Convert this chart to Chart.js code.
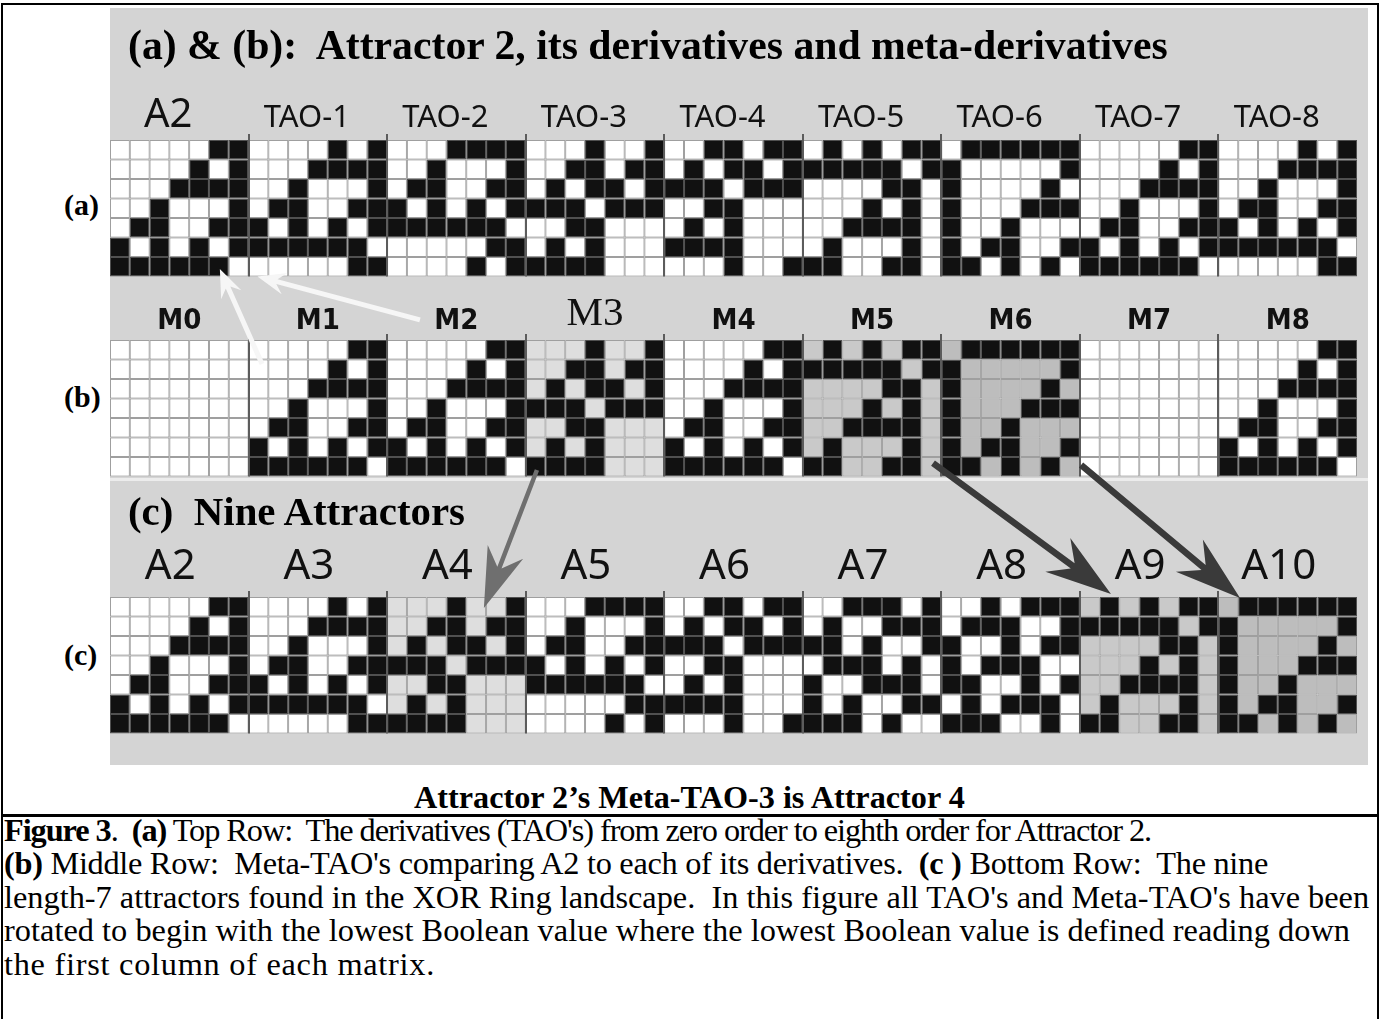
<!DOCTYPE html>
<html><head><meta charset="utf-8">
<script src="https://cdn.jsdelivr.net/npm/chart.js@4.4.1/dist/chart.umd.min.js"></script>
<style>
html,body{margin:0;padding:0;background:#fff;}
body{width:1381px;height:1019px;position:relative;overflow:hidden;font-family:'Liberation Serif','Times New Roman',serif;color:#000;}
#frame{position:absolute;left:1px;top:3px;width:1378px;height:1040px;border:2px solid #000;box-sizing:border-box;}
#sep{position:absolute;left:1px;top:814px;width:1378px;height:3px;background:#000;}
#wrap{position:absolute;left:110px;top:8px;width:1258px;height:757px;background:#d4d4d4;}
#wrap canvas{position:absolute;left:0;top:0;}
.band{position:absolute;left:0;width:1258px;background:#ececec;}
.t{position:absolute;white-space:pre;line-height:1;}
.b{font-weight:bold;}
</style></head>
<body>
<div id="frame"></div>
<div id="wrap">
  <div class="band" style="top:470px;height:3px;"></div>
  <canvas id="c" width="1258" height="757"></canvas>
</div>
<div class="t b" data-w="1040" data-cy="46" style="left:128px;font-size:32px;">(a) &amp; (b):  Attractor 2, its derivatives and meta-derivatives</div>
<div class="t b" data-cy="205" style="left:64px;font-size:30px;">(a)</div>
<div class="t b" data-cy="397" style="left:64px;font-size:30px;">(b)</div>
<div class="t b" data-cy="655" style="left:64px;font-size:30px;">(c)</div>
<div class="t b" data-w="337" data-cy="512" style="left:128px;font-size:32px;">(c)  Nine Attractors</div>
<div class="t b" data-w="551" data-cy="797" style="left:414px;font-size:24px;">Attractor 2’s Meta-TAO-3 is Attractor 4</div>
<div id="sep"></div>
<div class="t cap" data-lw="1147" data-cy="830" style="left:4px;font-size:26px;"><b>Figure 3</b>.  <b>(a)</b> Top Row:  The derivatives (TAO's) from zero order to eighth order for Attractor 2.</div>
<div class="t cap" data-lw="1264" data-cy="863.5" style="left:4px;font-size:26px;"><b>(b)</b> Middle Row:  Meta-TAO's comparing A2 to each of its derivatives.  <b>(c )</b> Bottom Row:  The nine</div>
<div class="t cap" id="capRef" data-cy="897" style="left:4px;font-size:26px;">length-7 attractors found in the XOR Ring landscape.  In this figure all TAO's and Meta-TAO's have been</div>
<div class="t cap" data-lw="1346" data-cy="930.5" style="left:4px;font-size:26px;">rotated to begin with the lowest Boolean value where the lowest Boolean value is defined reading down</div>
<div class="t cap" data-lw="431" data-cy="964" style="left:4px;font-size:26px;">the first column of each matrix.</div>
<script>
// ---------- DATA ----------
const ROW_A_LABELS = ['A2','TAO-1','TAO-2','TAO-3','TAO-4','TAO-5','TAO-6','TAO-7','TAO-8'];
const ROW_B_LABELS = ['M0','M1','M2','M3','M4','M5','M6','M7','M8'];
const ROW_C_LABELS = ['A2','A3','A4','A5','A6','A7','A8','A9','A10'];

// 7x7 Boolean matrices, one string per matrix row (1 = black)
const A2   = ['0000011','0000101','0001111','0010001','0110011','1010101','1111110'];
const TAO1 = ['0000101','0001111','0010001','0110011','1010101','1111110','0000011'];
const TAO2 = ['0001111','0010001','0110011','1010101','1111110','0000011','0000101'];
const TAO3 = ['0001001','0011011','0101101','1110111','0011000','0101000','1111000'];
const TAO4 = ['0011011','0101101','1110111','0011000','0101000','1111000','0001001'];
const TAO5 = ['0101011','1111101','0000110','0001010','0011110','0100010','1100110'];
const TAO6 = ['0111111','1000001','1000010','1000111','1001000','1011001','1101010'];
const TAO7 = ['0000011','0000101','0001111','0010001','0110011','1010101','1111110'];
const TAO8 = ['0000101','0001111','0010001','0110011','1010101','1111110','0000011'];

const M0 = ['0000000','0000000','0000000','0000000','0000000','0000000','0000000'];
const M1 = ['0000011','0000101','0001111','0010001','0110011','1010101','1111110'];
const M2 = ['0000011','0000101','0001111','0010001','0110011','1010101','1111110'];
const M3 = ['0001001','0011011','0101101','1110111','0011000','0101000','1111000'];
const M4 = ['0000011','0000101','0001111','0010001','0110011','1010101','1111110'];
const M5 = ['0101011','1111101','0000110','0001010','0011110','0100010','1100110'];
const M6 = ['0111111','1000001','1000010','1000111','1001000','1011001','1101010'];
const M7 = ['0000000','0000000','0000000','0000000','0000000','0000000','0000000'];
const M8 = ['0000011','0000101','0001111','0010001','0110011','1010101','1111110'];

const C_A2 = ['0000011','0000101','0001111','0010001','0110011','1010101','1111110'];
const A3   = ['0000101','0001111','0010001','0110011','1010101','1111110','0000011'];
const A4   = ['0001001','0011011','0101101','1110111','0011000','0101000','1111000'];
const A5   = ['0001111','0010001','0110011','1010101','1111110','0000011','0000101'];
const A6   = ['0011011','0101101','1110111','0011000','0101000','1111000','0001001'];
const A7   = ['0011101','0100111','1101001','0111010','1001110','1010011','1110100'];
const A8   = ['0010111','0111001','1001011','1011100','1100101','0101110','1110010'];
const A9   = ['0101011','1111101','0000110','0001010','0011110','0100010','1100110'];
const A10  = ['0111111','1000001','1000010','1000111','1001000','1011001','1101010'];

// highlighted panels (0 none, 1 light, 2 medium, 3 darker)
const ROW_A_SHADE = [0,0,0,0,0,0,0,0,0];
const ROW_B_SHADE = [0,0,0,1,0,2,3,0,0];
const ROW_C_SHADE = [0,0,1,0,0,0,0,2,3];

// ---------- LAYOUT / STYLE ----------
const ROWS = [
  {panels:[A2,TAO1,TAO2,TAO3,TAO4,TAO5,TAO6,TAO7,TAO8], shade:ROW_A_SHADE},
  {panels:[M0,M1,M2,M3,M4,M5,M6,M7,M8], shade:ROW_B_SHADE},
  {panels:[C_A2,A3,A4,A5,A6,A7,A8,A9,A10], shade:ROW_C_SHADE}
];
const ROW_TOP = [132, 332, 589];
const CELL_H = 19.5;
const ZERO_FILL = ['#ffffff','#dedede','#c9c9c9','#bdbdbd'];
const ONE_FILL = '#111111';
const ZERO_BORDER = '#9f9f9f';
const ONE_BORDER = '#505050';

const N = 7, NP = 9;
const colLabels = [];
for (let i = 0; i < N*NP; i++) colLabels.push(String(i));

const datasets = [];
ROWS.forEach((row, p) => {
  for (let r = 0; r < N; r++) {
    const data = [], bg = [], bc = [];
    row.panels.forEach((m, k) => {
      for (let c = 0; c < N; c++) {
        const bit = m[r][c] === '1';
        data.push([ROW_TOP[p] + r*CELL_H, ROW_TOP[p] + (r+1)*CELL_H]);
        bg.push(bit ? ONE_FILL : ZERO_FILL[row.shade[k]]);
        bc.push(bit ? ONE_BORDER : ZERO_BORDER);
      }
    });
    datasets.push({
      type:'bar', data, backgroundColor:bg, borderColor:bc, borderWidth:1,
      borderSkipped:false, inflateAmount:0, grouped:false,
      barPercentage:1, categoryPercentage:1, xAxisID:'x', yAxisID:'y'
    });
  }
});

// arrows: [column index, panel row, matrix row position]
const ARROWS = [
  {from:[7.18,1,1.23],  to:[5.05,0,6.62], style:'light'},
  {from:[15.16,1,-1.03],to:[6.95,0,7.0],  style:'light'},
  {from:[21.07,1,6.67], to:[18.39,2,0.56],style:'mid'},
  {from:[41.08,1,6.31], to:[50.07,2,-0.15],style:'dark'},
  {from:[48.56,1,6.41], to:[56.59,2,0.05],style:'dark'}
];
const ARROW_STYLE = {
  light:{color:'#f6f6f6', head:28, half:11, shaft:5},
  mid:{color:'#6f6f6f', head:60, half:19, shaft:4.5},
  dark:{color:'#3a3a3a', head:66, half:21, shaft:6.5}
};

function drawArrow(ctx, x1, y1, x2, y2, st) {
  const dx = x2-x1, dy = y2-y1, len = Math.hypot(dx,dy);
  const ux = dx/len, uy = dy/len, nx = -uy, ny = ux;
  const L = st.head, W = st.half, s = st.shaft/2;
  const bx = x2-ux*L, by = y2-uy*L, ix = x2-ux*L*0.72, iy = y2-uy*L*0.72;
  ctx.fillStyle = st.color;
  ctx.beginPath();
  ctx.moveTo(x1+nx*s, y1+ny*s);
  ctx.lineTo(ix+nx*s, iy+ny*s);
  ctx.lineTo(bx+nx*W, by+ny*W);
  ctx.lineTo(x2, y2);
  ctx.lineTo(bx-nx*W, by-ny*W);
  ctx.lineTo(ix-nx*s, iy-ny*s);
  ctx.lineTo(x1-nx*s, y1-ny*s);
  ctx.closePath();
  ctx.fill();
}

const overlay = {
  id:'overlay',
  afterDatasetsDraw(chart) {
    const ctx = chart.ctx, xs = chart.scales.x, ys = chart.scales.y;
    ctx.save();
    ctx.strokeStyle = '#5c5c5c'; ctx.lineWidth = 2;
    ROW_TOP.forEach(t => {
      for (let k = 1; k < NP; k++) {
        const px = Math.round(xs.getPixelForValue(k*N-0.5));
        ctx.beginPath();
        ctx.moveTo(px, ys.getPixelForValue(t-6));
        ctx.lineTo(px, ys.getPixelForValue(t+N*CELL_H));
        ctx.stroke();
      }
    });
    ARROWS.forEach(a => {
      const x1 = xs.getPixelForValue(a.from[0]), y1 = ys.getPixelForValue(ROW_TOP[a.from[1]] + a.from[2]*CELL_H);
      const x2 = xs.getPixelForValue(a.to[0]), y2 = ys.getPixelForValue(ROW_TOP[a.to[1]] + a.to[2]*CELL_H);
      drawArrow(ctx, x1, y1, x2, y2, ARROW_STYLE[a.style]);
    });
    ctx.restore();
  }
};

function labelAxis(labels, v, fontFn, off) {
  return {
    axis:'x', type:'category', labels, offset:true, position:{y:v},
    grid:{display:false, drawTicks:false}, border:{display:false},
    ticks:{autoSkip:false, maxRotation:0, minRotation:0, padding:0, color:'#111', labelOffset:off, font:fontFn}
  };
}

new Chart(document.getElementById('c'), {
  type:'bar',
  data:{labels:colLabels, datasets},
  options:{
    responsive:false, animation:false, events:[],
    layout:{padding:{left:0, right:11, top:0, bottom:0}},
    plugins:{legend:{display:false}, tooltip:{enabled:false}},
    scales:{
      x:{type:'category', display:false, offset:true},
      y:{type:'linear', display:false, min:0, max:757, reverse:true},
      la:labelAxis(ROW_A_LABELS, 90, (ctx) => ctx.index === 0
          ? {family:'Noto Sans', size:40, lineHeight:'35px'}
          : {family:'Noto Sans', size:31, lineHeight:'40px'}, -11),
      lb:labelAxis(ROW_B_LABELS, 290, (ctx) => ctx.index === 3
          ? {family:'Liberation Serif', size:41, lineHeight:'32px'}
          : {family:"'DejaVu Sans Condensed', 'DejaVu Sans'", weight:'bold', size:29, lineHeight:'47px'}, 0),
      lc:labelAxis(ROW_C_LABELS, 540, () => ({family:'Noto Sans', size:42, lineHeight:'39px'}), -9)
    }
  },
  plugins:[overlay]
});

// size the real text so that it spans the widths measured on the reference
function fontPx(el) { return parseFloat(el.style.fontSize); }
document.querySelectorAll('[data-w]').forEach(el => {
  const w = el.getBoundingClientRect().width;
  el.style.fontSize = (fontPx(el) * (+el.dataset.w / w)) + 'px';
});
const capRef = document.getElementById('capRef');
const capK = 1366 / capRef.getBoundingClientRect().width;
document.querySelectorAll('.cap').forEach(el => {
  el.style.fontSize = (fontPx(el) * capK) + 'px';
});
document.querySelectorAll('[data-lw]').forEach(el => {
  const w = el.getBoundingClientRect().width;
  const n = el.textContent.length;
  el.style.letterSpacing = ((+el.dataset.lw - w) / n) + 'px';
});
document.querySelectorAll('[data-cy]').forEach(el => {
  el.style.top = (+el.dataset.cy - fontPx(el) / 2) + 'px';
});
</script>
</body></html>
